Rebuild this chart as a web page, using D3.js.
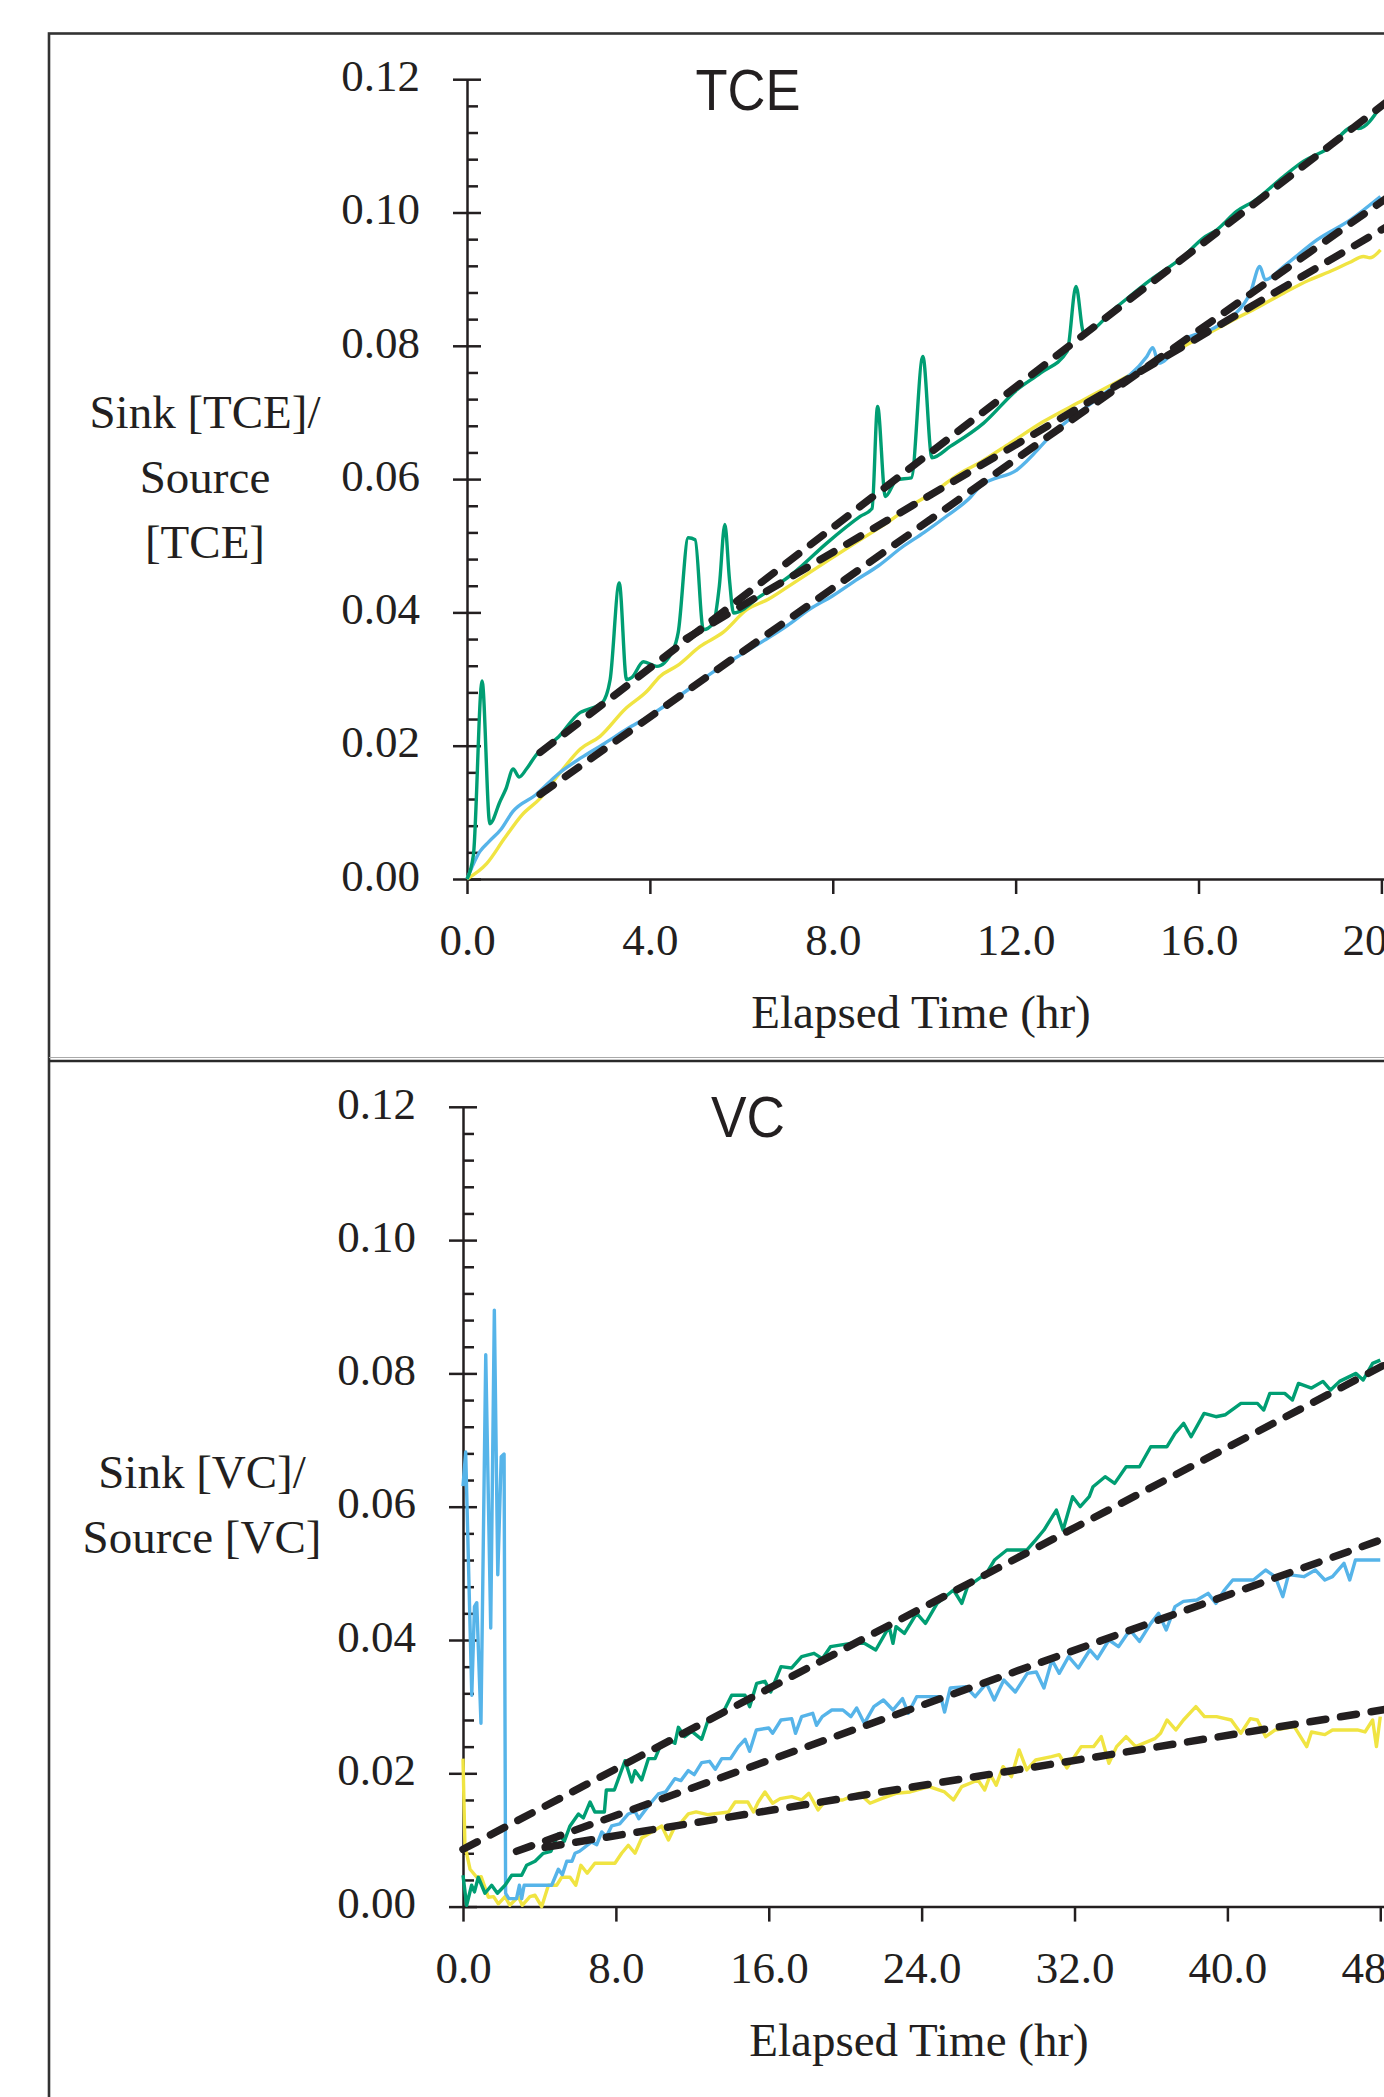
<!DOCTYPE html>
<html>
<head>
<meta charset="utf-8">
<title>Sink / Source ratio, TCE and VC</title>
<script src="https://d3js.org/d3.v7.min.js"></script>
<style>
  body { margin: 0; background: #fff; }
  .axis path, .axis line { stroke: #231f20; stroke-width: 2.5; fill: none; }
  .axis text { font-family: "Liberation Serif", serif; font-size: 45px; fill: #231f20; }
  .axis-title { font-family: "Liberation Serif", serif; font-size: 47px; fill: #231f20; }
  .y-title { font-family: "Liberation Serif", serif; font-size: 47px; fill: #231f20; text-anchor: middle; }
  .panel-title { font-family: "Liberation Sans", Arial, sans-serif; font-size: 58px; fill: #231f20; text-anchor: middle; }
  .series { fill: none; stroke-width: 3.4; stroke-linejoin: round; }
  .fit { fill: none; stroke: #231f20; stroke-width: 7.5; stroke-dasharray: 16 15; stroke-linecap: round; }
</style>
</head>
<body>
<svg id="chart"></svg>
<script>
// ---- TCE panel, [hours, sink/source] ----
var tceGreen = [[0,0],[0.14,0.0036],[0.33,0.0297],[0.5,0.0083],[0.72,0.0116],[0.85,0.0135],[1.01,0.0165],[1.14,0.0153],
  [1.3,0.0165],[1.5,0.0185],[2.0,0.0213],[2.48,0.025],[2.62,0.0254],[2.95,0.0264],[3.13,0.0299],[3.33,0.0444],[3.49,0.0299],
  [3.6,0.0302],[3.86,0.0326],[4.15,0.0319],[4.51,0.0344],[4.62,0.037],[4.84,0.0512],[4.99,0.0509],[5.17,0.0374],[5.39,0.0384],
  [5.52,0.044],[5.64,0.0532],[5.74,0.045],[5.83,0.0399],[6.41,0.0424],[7.14,0.0459],[7.87,0.0504],[8.6,0.0544],[8.86,0.0556],
  [8.98,0.0709],[9.15,0.0574],[9.4,0.0599],[9.72,0.0602],[9.97,0.0784],[10.17,0.0632],[10.57,0.0649],[11.3,0.0684],
  [12.03,0.0734],[12.54,0.0759],[13.13,0.0792],[13.32,0.0889],[13.49,0.0819],[14.22,0.0859],[14.95,0.0899],[15.67,0.0934],
  [16.11,0.0962],[16.4,0.0974],[16.84,0.1002],[17.21,0.1017],[17.86,0.1054],[18.3,0.1077],[18.81,0.1095],[19.4,0.1129],
  [19.5,0.1126],[19.98,0.1159]];
var tceBlue = [[0,0],[0.28,0.0041],[0.48,0.0056],[0.75,0.0075],[1.0,0.0101],[1.5,0.0126],[2.0,0.0158],[2.5,0.0182],
  [3.0,0.0203],[3.5,0.0225],[4.0,0.0245],[4.5,0.0268],[5.0,0.0292],[5.5,0.0316],[6.0,0.0337],[6.5,0.0358],[7.0,0.038],
  [7.5,0.0405],[8.0,0.0425],[8.5,0.0448],[9.0,0.047],[9.5,0.0497],[10.0,0.052],[10.5,0.0545],[11.0,0.0572],[11.22,0.0589],
  [12.03,0.0614],[12.9,0.0674],[13.85,0.0724],[14.87,0.0784],[15.0,0.0797],[15.13,0.0774],[15.67,0.0809],[16.4,0.0829],
  [17.13,0.0879],[17.34,0.0919],[17.46,0.0899],[17.86,0.0919],[18.59,0.0959],[19.32,0.0989],[19.98,0.1024]];
var tceYellow = [[0,0],[0.43,0.0023],[0.82,0.0061],[1.2,0.0096],[1.6,0.0121],[2.03,0.0159],[2.48,0.0195],[2.91,0.0214],
  [3.46,0.0255],[3.94,0.0282],[4.22,0.0304],[4.6,0.032],[5.1,0.0349],[5.6,0.037],[6.12,0.0404],[6.6,0.042],[7.14,0.0444],
  [7.9,0.0478],[8.6,0.0509],[9.2,0.0535],[9.69,0.0559],[10.2,0.058],[10.79,0.0609],[11.22,0.0625],[11.88,0.0654],
  [12.6,0.0686],[13.49,0.0719],[14.0,0.0738],[14.58,0.0759],[15.1,0.0778],[15.67,0.0799],[16.2,0.0818],[16.77,0.0839],
  [17.3,0.0858],[17.86,0.0879],[18.4,0.0898],[18.96,0.0914],[19.3,0.0925],[19.61,0.0934],[19.75,0.0932],[19.98,0.0944]];
var tceGreenFit = [[1.6,0.0190],[20.1,0.1165]];
var tceBlueFit = [[1.6,0.0127],[20.1,0.1021]];
var tceYellowFit = [[4.8,0.0361],[20.1,0.0978]];

// ---- VC panel ----
var vcGreen = [[0,0.0047],[0.19,0.0002],[0.45,0.0032],[0.6,0.0022],[0.8,0.0044],[1.15,0.002],[1.5,0.0032],[1.8,0.002],
  [2.2,0.0032],[2.55,0.0047],[3.07,0.0047],[3.33,0.0062],[3.77,0.0068],[4.2,0.008],[4.6,0.0083],[4.99,0.0109],[5.3,0.0098],
  [5.6,0.0121],[6.04,0.0139],[6.3,0.0133],[6.65,0.0157],[6.9,0.0142],[7.4,0.0142],[7.5,0.0175],[7.92,0.0175],[8.48,0.0219],
  [8.83,0.0187],[9.0,0.0204],[9.35,0.019],[9.7,0.0222],[10.05,0.0222],[10.31,0.024],[10.74,0.0251],[11.09,0.0245],
  [11.27,0.0269],[11.6,0.0255],[11.97,0.0263],[12.49,0.0251],[12.84,0.0281],[13.54,0.0287],[14.06,0.0317],[14.76,0.0317],
  [15.0,0.03],[15.37,0.0335],[15.8,0.0338],[16.1,0.0322],[16.64,0.036],[17.2,0.0358],[17.72,0.0375],[18.37,0.038],
  [18.8,0.0372],[19.23,0.039],[20.3,0.0395],[21.0,0.0395],[21.6,0.0385],[22.3,0.042],[22.5,0.0395],[22.66,0.042],
  [23.1,0.041],[23.74,0.044],[24.2,0.0425],[24.81,0.0455],[25.67,0.0475],[26.1,0.0455],[26.4,0.048],[27.39,0.05],
  [27.81,0.052],[28.46,0.0535],[29.5,0.0535],[29.96,0.055],[30.4,0.0565],[31.05,0.0595],[31.4,0.0565],[31.9,0.0615],
  [32.3,0.06],[32.77,0.0615],[32.97,0.063],[33.6,0.0645],[34.1,0.0635],[34.7,0.066],[35.4,0.066],[35.99,0.069],
  [36.84,0.069],[37.26,0.071],[37.71,0.0725],[38.1,0.0705],[38.78,0.074],[39.4,0.0735],[39.9,0.0738],[40.71,0.0755],
  [41.57,0.0755],[41.9,0.0745],[42.22,0.077],[43.0,0.077],[43.4,0.076],[43.72,0.0785],[44.4,0.0778],[45.0,0.0788],
  [45.4,0.0775],[45.87,0.0788],[46.73,0.08],[47.1,0.079],[47.6,0.0815],[48.0,0.082]];
var vcBlue = [[0,0.0631],[0.14,0.0682],[0.46,0.0317],[0.6,0.045],[0.72,0.0456],[0.94,0.0275],[1.19,0.0828],[1.45,0.0418],
  [1.64,0.0895],[1.82,0.0498],[2.0,0.0675],[2.15,0.0679],[2.23,0.002],[2.4,0.0012],[2.8,0.0012],[2.95,0.0032],[3.07,0.0012],
  [3.2,0.0032],[4.64,0.0032],[4.99,0.0056],[5.2,0.0048],[5.43,0.0068],[5.7,0.0068],[5.86,0.008],[6.1,0.0083],[6.73,0.0097],
  [7.0,0.0093],[7.26,0.0112],[7.5,0.0105],[7.78,0.0121],[8.2,0.0124],[8.65,0.0139],[9.0,0.0143],[9.2,0.0132],[9.7,0.0151],
  [10.22,0.0169],[10.6,0.0172],[11.09,0.0192],[11.4,0.0189],[11.79,0.0204],[12.1,0.0198],[12.49,0.0216],[12.9,0.0218],
  [13.2,0.0206],[13.54,0.0222],[14.0,0.0222],[14.41,0.024],[14.76,0.0251],[15.0,0.0233],[15.35,0.0265],[16.0,0.0268],
  [16.2,0.026],[16.64,0.028],[17.2,0.0282],[17.4,0.026],[17.72,0.0285],[18.3,0.029],[18.5,0.0272],[18.8,0.0285],
  [19.3,0.0295],[19.88,0.0295],[20.3,0.0285],[20.6,0.0298],[21.0,0.0275],[21.5,0.03],[22.0,0.031],[22.5,0.0295],
  [23.0,0.0312],[23.3,0.029],[23.74,0.0315],[25.0,0.0315],[25.2,0.0292],[25.5,0.0328],[26.31,0.033],[26.8,0.0315],
  [27.39,0.0335],[27.8,0.031],[28.3,0.034],[28.9,0.0322],[29.53,0.035],[30.0,0.0352],[30.4,0.0328],[30.82,0.037],
  [31.2,0.035],[31.69,0.0375],[32.2,0.0358],[32.8,0.0385],[33.2,0.0372],[33.8,0.04],[34.3,0.039],[34.9,0.0415],
  [35.4,0.0398],[35.99,0.0425],[36.4,0.044],[36.8,0.0415],[37.26,0.045],[37.7,0.0458],[38.4,0.046],[38.99,0.047],
  [39.4,0.0455],[39.85,0.0475],[40.28,0.049],[41.36,0.049],[42.0,0.0505],[42.5,0.0495],[42.9,0.0465],[43.2,0.0498],
  [44.0,0.0495],[44.6,0.0505],[45.1,0.049],[45.5,0.0495],[46.1,0.0515],[46.4,0.049],[46.7,0.052],[48.0,0.052]];
var vcYellow = [[0,0.0222],[0.1,0.0092],[0.37,0.0056],[0.72,0.0044],[0.95,0.0045],[1.33,0.0014],[1.6,0.0015],[1.85,0.0004],
  [2.2,0.0015],[2.45,0.0002],[2.9,0.0015],[3.1,0.0002],[3.5,0.0015],[3.77,0.0017],[4.12,0.0],[4.47,0.0032],[4.9,0.0032],
  [5.16,0.0044],[5.6,0.0044],[5.9,0.0032],[6.17,0.0062],[6.5,0.005],[6.9,0.0065],[7.95,0.0065],[8.3,0.008],[8.65,0.0092],
  [9.0,0.008],[9.35,0.0103],[10.05,0.0115],[10.4,0.0121],[10.75,0.01],[11.1,0.0121],[11.44,0.0127],[11.79,0.0139],
  [12.2,0.0142],[12.8,0.0138],[13.89,0.0142],[14.24,0.0157],[14.9,0.0157],[15.2,0.0142],[15.45,0.0157],[15.8,0.0172],
  [16.2,0.0155],[16.6,0.0162],[17.2,0.0165],[17.72,0.016],[18.1,0.017],[18.58,0.0145],[19.0,0.016],[19.87,0.016],
  [20.3,0.0165],[20.73,0.017],[21.3,0.0155],[21.9,0.0162],[22.66,0.017],[23.4,0.0172],[24.39,0.018],[25.2,0.0172],
  [25.67,0.016],[26.1,0.018],[26.95,0.019],[27.3,0.0175],[27.6,0.0198],[27.9,0.0182],[28.26,0.021],[28.7,0.0195],
  [29.1,0.0235],[29.5,0.0205],[29.97,0.022],[30.8,0.0225],[31.2,0.0228],[31.6,0.0208],[32.35,0.024],[33.0,0.024],
  [33.4,0.0255],[33.8,0.0215],[34.2,0.024],[34.7,0.0255],[35.2,0.024],[36.2,0.0252],[36.5,0.026],[36.84,0.028],
  [37.3,0.0265],[37.7,0.028],[38.35,0.03],[38.8,0.0285],[39.43,0.0285],[40.2,0.028],[40.7,0.026],[41.2,0.0282],
  [41.57,0.028],[42.0,0.0255],[42.5,0.0265],[43.5,0.027],[44.15,0.024],[44.4,0.0262],[45.1,0.0258],[45.5,0.0265],
  [46.3,0.0265],[46.8,0.0265],[47.2,0.0262],[47.6,0.028],[47.8,0.024],[48.0,0.0285]];
var vcGreenFit = [[0,0.0086],[48.3,0.0814]];
var vcBlueFit = [[2.8,0.0083],[48.3,0.0553]];
var vcYellowFit = [[4.3,0.0089],[48.3,0.0296]];

var yMajor = [0, 0.02, 0.04, 0.06, 0.08, 0.10, 0.12];
var yMinor = d3.range(0, 31).filter(function(i) { return i % 5 != 0; }).map(function(i) { return i * 0.004; });

var colors = { green: "#009e73", blue: "#56b4e9", yellow: "#f0e442" };

var width = 1384, height = 2097;
var svg = d3.select("#chart").attr("width", width).attr("height", height);

svg.append("rect").attr("width", width).attr("height", height).attr("fill", "#fff");

// outer frame (runs off the right and bottom edge of the page)
svg.append("rect")
  .attr("x", 49).attr("y", 33.5)
  .attr("width", 2000).attr("height", 3000)
  .attr("fill", "none").attr("stroke", "#333").attr("stroke-width", 2.6);
svg.append("line")
  .attr("x1", 49).attr("x2", width).attr("y1", 1057.5).attr("y2", 1057.5)
  .attr("stroke", "#aaa").attr("stroke-width", 1.2);
svg.append("line")
  .attr("x1", 49).attr("x2", width).attr("y1", 1061).attr("y2", 1061)
  .attr("stroke", "#2a2a2a").attr("stroke-width", 2.6);

function drawPanel(p) {
  var x = d3.scaleLinear().domain([0, p.xMax]).range([p.x0, p.x0 + p.xMax * p.pxPerHr]);
  var y = d3.scaleLinear().domain([0, 0.12]).range([p.y0, p.y0 - 6 * 133.3]);
  var g = svg.append("g");

  // y axis: major ticks crossing the axis, minor ticks inside
  g.append("g").attr("class", "axis")
    .attr("transform", "translate(" + p.x0 + ",0)")
    .call(d3.axisLeft(y).tickValues(yMajor).tickSizeInner(14).tickSizeOuter(0).tickPadding(33)
      .tickFormat(d3.format(".2f")))
    .selectAll("text").attr("dy", "0.25em");
  g.append("g").attr("class", "axis")
    .attr("transform", "translate(" + p.x0 + ",0)")
    .call(d3.axisRight(y).tickValues(yMajor).tickSize(14).tickFormat(""))
    .select(".domain").remove();
  g.append("g").attr("class", "axis")
    .attr("transform", "translate(" + p.x0 + ",0)")
    .call(d3.axisRight(y).tickValues(yMinor).tickSize(11).tickFormat(""))
    .select(".domain").remove();

  // x axis
  g.append("g").attr("class", "axis")
    .attr("transform", "translate(0," + p.y0 + ")")
    .call(d3.axisBottom(x).tickValues(d3.range(0, p.xMax + 0.1, p.step))
      .tickSizeInner(15).tickSizeOuter(0).tickPadding(29).tickFormat(d3.format(".1f")));

  var line = d3.line()
    .x(function(d) { return x(d[0]); })
    .y(function(d) { return y(d[1]); })
    .curve(p.curve);

  p.series.forEach(function(s) {
    g.append("path").datum(s.data)
      .attr("class", "series")
      .attr("stroke", s.color)
      .attr("d", line);
  });

  var straight = d3.line()
    .x(function(d) { return x(d[0]); })
    .y(function(d) { return y(d[1]); });
  p.fits.forEach(function(f) {
    g.append("path").datum(f).attr("class", "fit").attr("d", straight);
  });

  // titles
  g.append("text").attr("class", "panel-title")
    .attr("x", p.titleX).attr("y", p.titleY)
    .attr("textLength", p.titleLen).attr("lengthAdjust", "spacingAndGlyphs")
    .text(p.title);

  g.append("text").attr("class", "axis-title")
    .attr("x", p.xTitleX).attr("y", p.y0 + 149)
    .attr("text-anchor", "middle")
    .text("Elapsed Time (hr)");

  var yt = g.append("text").attr("class", "y-title");
  p.yLines.forEach(function(l, i) {
    yt.append("tspan").attr("x", p.yTitleX).attr("y", p.yTitleY + i * 65).text(l);
  });
}

drawPanel({
  x0: 467, pxPerHr: 45.72, xMax: 24, step: 4, y0: 879,
  curve: d3.curveMonotoneX,
  series: [
    { data: tceYellow, color: colors.yellow },
    { data: tceBlue, color: colors.blue },
    { data: tceGreen, color: colors.green }
  ],
  fits: [tceGreenFit, tceBlueFit, tceYellowFit],
  title: "TCE", titleX: 748, titleY: 110, titleLen: 105,
  xTitleX: 921,
  yLines: ["Sink [TCE]/", "Source", "[TCE]"], yTitleX: 205, yTitleY: 428
});

drawPanel({
  x0: 463, pxPerHr: 19.11, xMax: 56, step: 8, y0: 1906.6,
  curve: d3.curveLinear,
  series: [
    { data: vcYellow, color: colors.yellow },
    { data: vcBlue, color: colors.blue },
    { data: vcGreen, color: colors.green }
  ],
  fits: [vcGreenFit, vcBlueFit, vcYellowFit],
  title: "VC", titleX: 748, titleY: 1137, titleLen: 74,
  xTitleX: 919,
  yLines: ["Sink [VC]/", "Source [VC]"], yTitleX: 202, yTitleY: 1488
});
</script>
</body>
</html>
